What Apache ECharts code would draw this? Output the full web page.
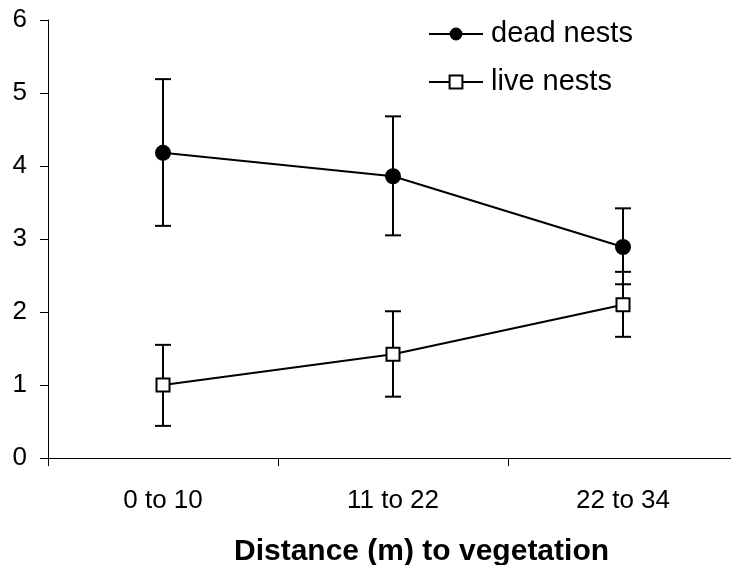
<!DOCTYPE html>
<html>
<head>
<meta charset="utf-8">
<script src="https://cdn.jsdelivr.net/npm/echarts@6/dist/echarts.min.js"></script>
<style>
html,body{margin:0;padding:0;background:#fff;}
#chart{width:731px;height:565px;}
</style>
</head>
<body>
<div id="chart"></div>
<script>
var categories = ["0 to 10", "11 to 22", "22 to 34"];
var deadMean = [4.18, 3.86, 2.89];
var deadLow = [3.18, 3.05, 2.38];
var deadHigh = [5.19, 4.68, 3.42];
var liveMean = [1.00, 1.42, 2.10];
var liveLow = [0.44, 0.84, 1.66];
var liveHigh = [1.55, 2.01, 2.55];
var yTicks = [0, 1, 2, 3, 4, 5, 6];

var FONT = "'Liberation Sans', Arial, sans-serif";

function errData(low, high) {
  return categories.map(function (c, i) { return [i, low[i], high[i]]; });
}

function errRender(params, api) {
  var x = api.value(0);
  var lo = api.coord([x, api.value(1)]);
  var hi = api.coord([x, api.value(2)]);
  var hw = 8;
  var st = { stroke: '#000', lineWidth: 2, fill: null };
  return {
    type: 'group',
    children: [
      { type: 'line', shape: { x1: lo[0], y1: lo[1], x2: hi[0], y2: hi[1] }, style: st },
      { type: 'line', shape: { x1: lo[0] - hw, y1: lo[1], x2: lo[0] + hw, y2: lo[1] }, style: st },
      { type: 'line', shape: { x1: hi[0] - hw, y1: hi[1], x2: hi[0] + hw, y2: hi[1] }, style: st }
    ]
  };
}

var chart = echarts.init(document.getElementById('chart'), null, { renderer: 'canvas' });
chart.setOption({
  animation: false,
  backgroundColor: '#fff',
  textStyle: { fontFamily: FONT },
  grid: { left: 48, top: 20, width: 690, height: 438, containLabel: false, outerBoundsMode: 'none' },
  legend: {
    orient: 'vertical',
    left: 423,
    top: 14,
    itemWidth: 54,
    itemHeight: 16,
    itemGap: 18,
    textStyle: { fontFamily: FONT, fontSize: 29, color: '#000', lineHeight: 30, padding: [0, 0, 0, 3] },
    data: ['dead nests', 'live nests']
  },
  xAxis: {
    type: 'category',
    data: categories,
    boundaryGap: true,
    axisLine: { lineStyle: { color: '#000', width: 1 } },
    axisTick: { show: true, length: 8, lineStyle: { color: '#000' } },
    axisLabel: { fontFamily: FONT, fontSize: 26, color: '#000', margin: 30 },
    splitLine: { show: false },
    name: 'Distance (m) to vegetation',
    nameLocation: 'middle',
    nameGap: 79,
    nameTextStyle: { fontFamily: FONT, fontSize: 30, fontWeight: 'bold', color: '#000', padding: [0, 0, 0, 57] }
  },
  yAxis: {
    type: 'value',
    min: yTicks[0],
    max: yTicks[yTicks.length - 1],
    interval: 1,
    axisLine: { show: true, lineStyle: { color: '#000', width: 1 } },
    axisTick: { show: true, length: 8, lineStyle: { color: '#000' } },
    axisLabel: { fontFamily: FONT, fontSize: 26, color: '#000', margin: 21 },
    splitLine: { show: false }
  },
  series: [
    {
      type: 'custom',
      name: 'deadErr',
      renderItem: errRender,
      data: errData(deadLow, deadHigh),
      encode: { x: 0, y: [1, 2] },
      z: 1,
      silent: true
    },
    {
      type: 'custom',
      name: 'liveErr',
      renderItem: errRender,
      data: errData(liveLow, liveHigh),
      encode: { x: 0, y: [1, 2] },
      z: 1,
      silent: true
    },
    {
      type: 'line',
      name: 'dead nests',
      data: deadMean,
      symbol: 'circle',
      symbolSize: 16,
      lineStyle: { color: '#000', width: 2 },
      itemStyle: { color: '#000', borderColor: '#000', borderWidth: 0 },
      z: 3
    },
    {
      type: 'line',
      name: 'live nests',
      data: liveMean,
      symbol: 'rect',
      symbolSize: 13,
      lineStyle: { color: '#000', width: 2 },
      itemStyle: { color: '#fff', borderColor: '#000', borderWidth: 2 },
      z: 3
    }
  ]
});
</script>
</body>
</html>
